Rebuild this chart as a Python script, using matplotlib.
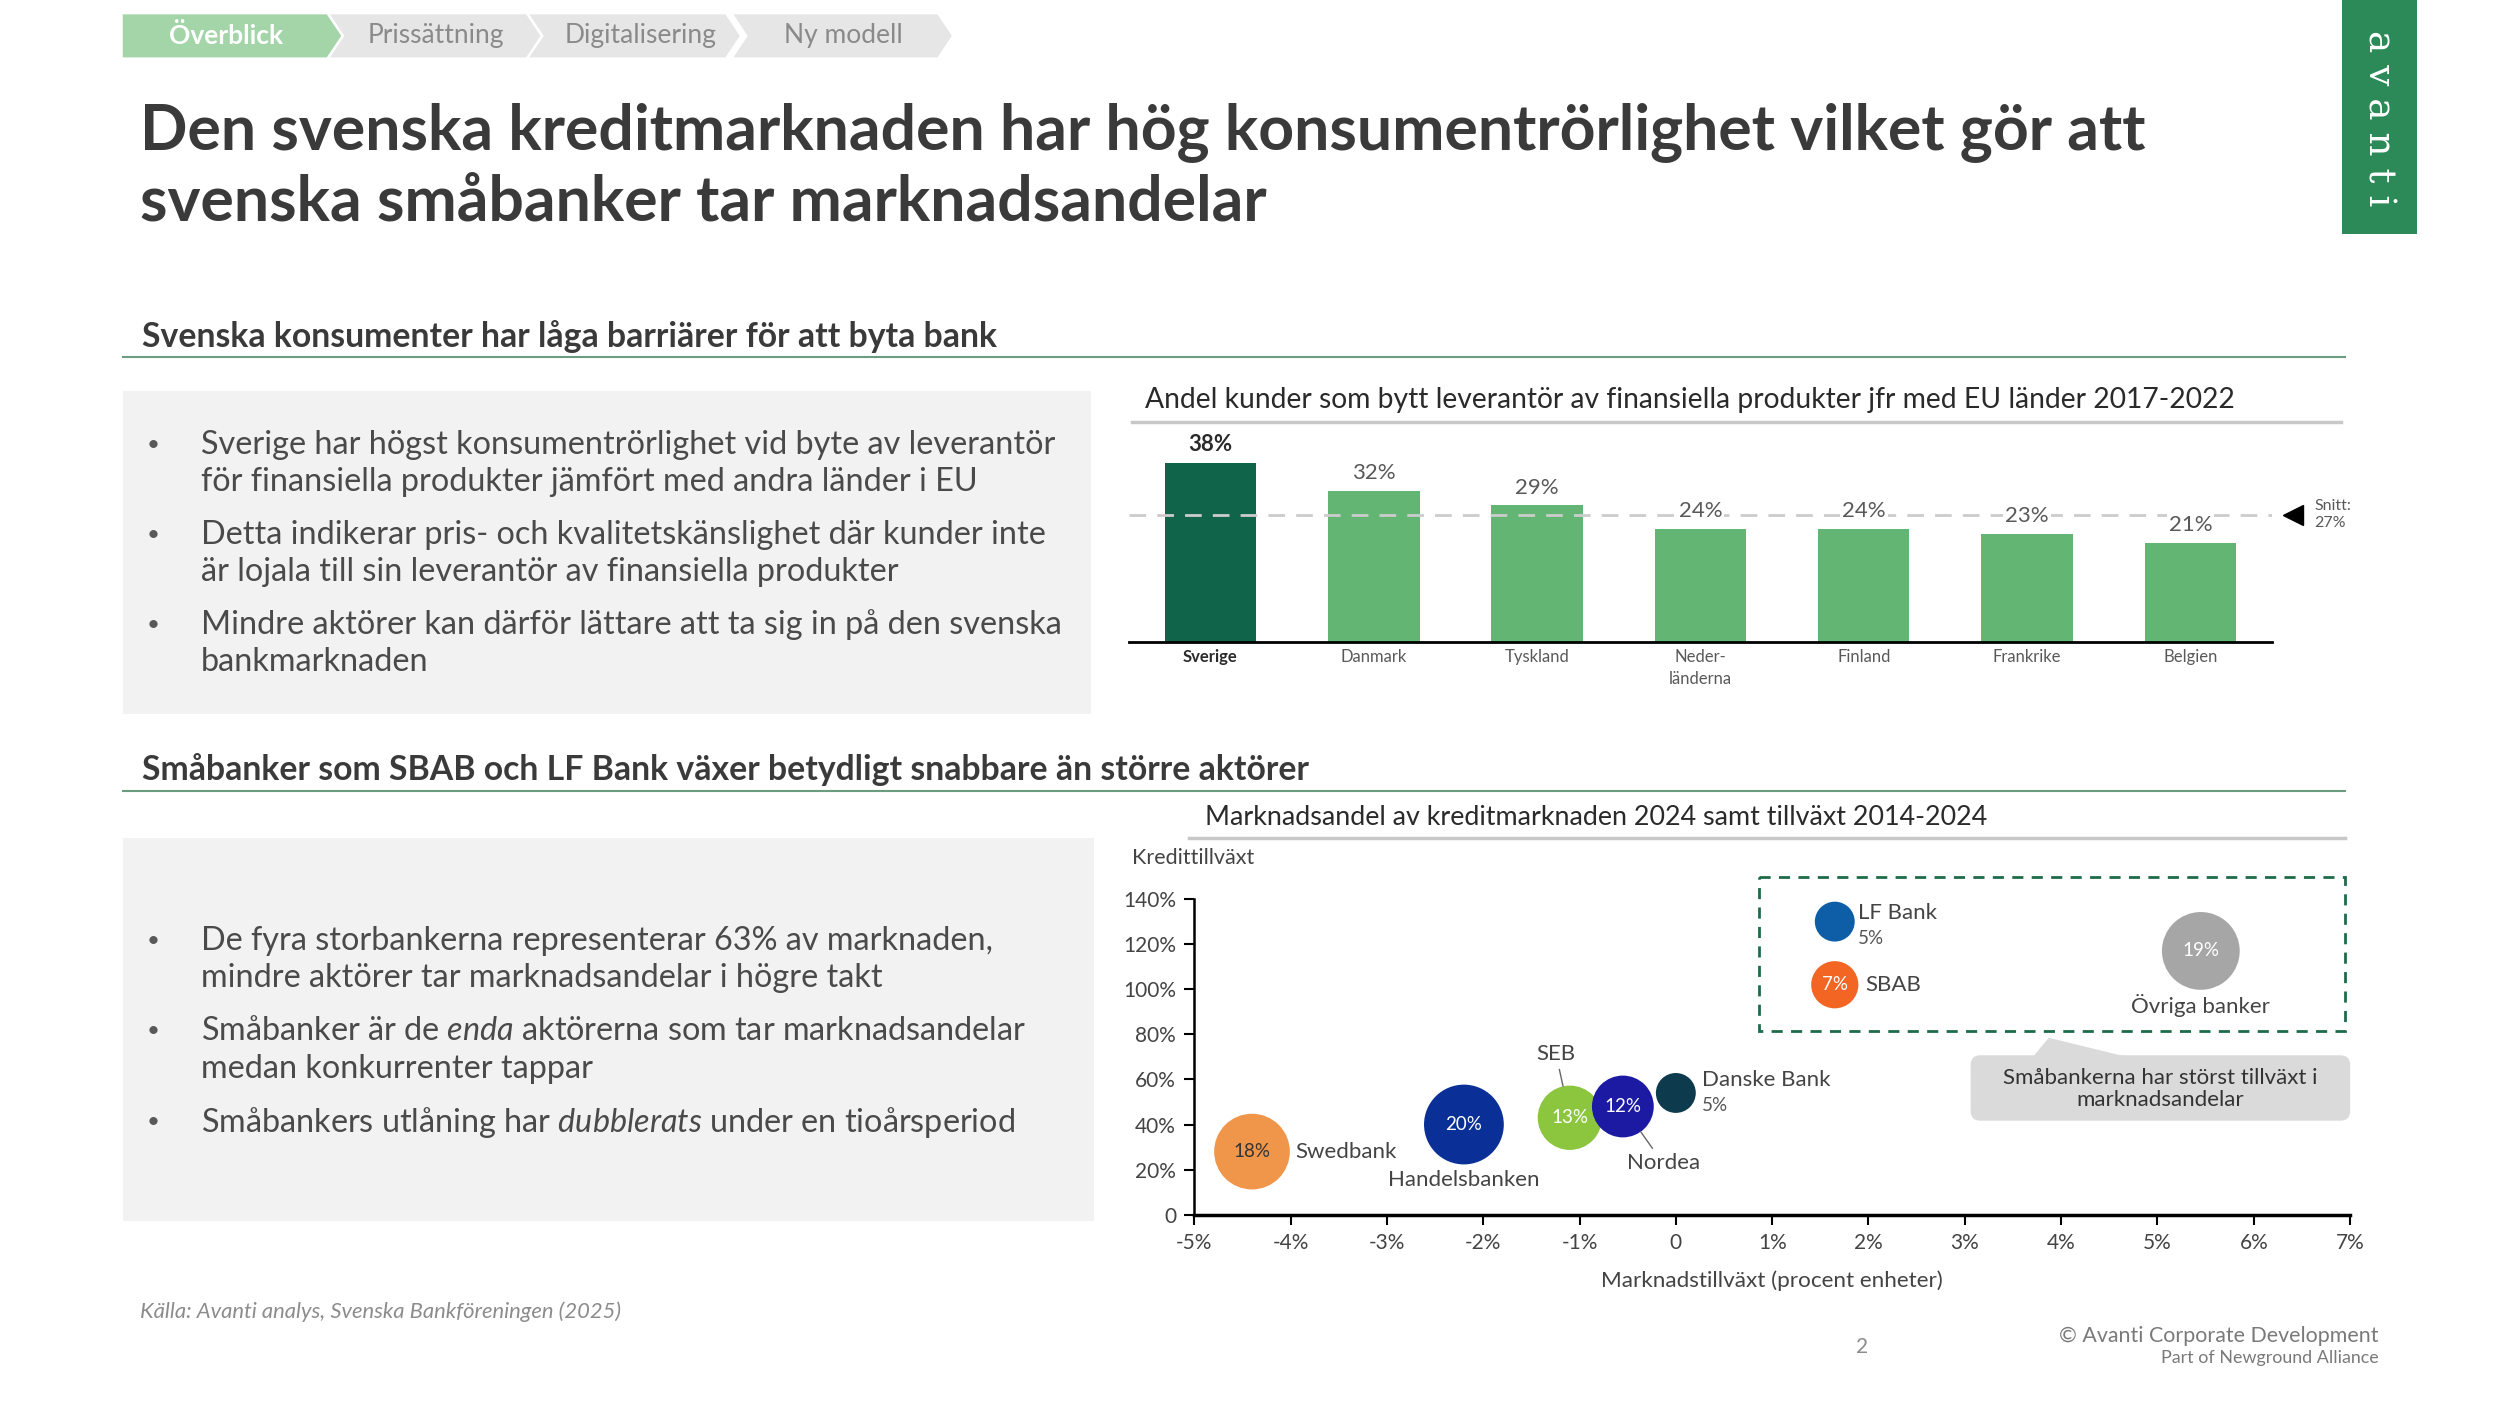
import matplotlib.pyplot as plt
from matplotlib.patches import Polygon, Rectangle, FancyBboxPatch
import numpy as np

plt.rcParams['font.family'] = ['Lato', 'DejaVu Sans']
plt.rcParams['mathtext.fontset'] = 'custom'
plt.rcParams['mathtext.rm'] = 'Lato'
plt.rcParams['mathtext.it'] = 'Lato:italic'

# --- data ---
tabs = ['Överblick', 'Prissättning', 'Digitalisering', 'Ny modell']

countries = ['Sverige', 'Danmark', 'Tyskland', 'Neder-\nländerna', 'Finland', 'Frankrike', 'Belgien']
switch_share = [38, 32, 29, 24, 24, 23, 21]
eu_avg = 27

banks = ['Swedbank', 'Handelsbanken', 'SEB', 'Nordea', 'Danske Bank', 'LF Bank', 'SBAB', 'Övriga banker']
market_growth = [-4.4, -2.2, -1.1, -0.55, 0.0, 1.65, 1.65, 5.45]
credit_growth = [28, 40, 43, 48, 54, 130, 102, 117]
market_share = [18, 20, 13, 12, 5, 5, 7, 19]
bank_colors = ['#f0964a', '#0a2f96', '#8cc63f', '#1c1aa3', '#0e3a4e', '#0d5ea6', '#f26522', '#a6a6a6']

x_ticks = [-5, -4, -3, -2, -1, 0, 1, 2, 3, 4, 5, 6, 7]
y_ticks = [0, 20, 40, 60, 80, 100, 120, 140]

bullets_top = [
    ['Sverige har högst konsumentrörlighet vid byte av leverantör',
     'för finansiella produkter jämfört med andra länder i EU'],
    ['Detta indikerar pris- och kvalitetskänslighet där kunder inte',
     'är lojala till sin leverantör av finansiella produkter'],
    ['Mindre aktörer kan därför lättare att ta sig in på den svenska',
     'bankmarknaden'],
]
bullets_bottom = [
    ['De fyra storbankerna representerar 63% av marknaden,',
     'mindre aktörer tar marknadsandelar i högre takt'],
    [r'Småbanker är de $\mathit{enda}$ aktörerna som tar marknadsandelar',
     'medan konkurrenter tappar'],
    [r'Småbankers utlåning har $\mathit{dubblerats}$ under en tioårsperiod'],
]

# --- slide grid (shrunk pixel units) ---
W, H = 1568, 882
TXT = '#3a3a3a'
GREY = '#595959'

fig = plt.figure(figsize=(25, 14.06), dpi=100)
bg = fig.add_axes([0, 0, 1, 1])
bg.set_xlim(0, W)
bg.set_ylim(H, 0)
bg.axis('off')


def rect(x0, y0, x1, y1):
    return [x0 / W, 1 - y1 / H, (x1 - x0) / W, (y1 - y0) / H]


# tabs
tab_x = [(77, 205), (207, 330), (332, 455), (460, 588)]
tab_dx = [-4, 0, 3, 0]
for i, (name, (x0, x1)) in enumerate(zip(tabs, tab_x)):
    pts = [(x0, 9), (x1, 9), (x1 + 9, 22.5), (x1, 36), (x0, 36)]
    if i > 0:
        pts.append((x0 + 9, 22.5))
    fc = '#a3d5a9' if i == 0 else '#e6e6e6'
    bg.add_patch(Polygon(pts, closed=True, fc=fc, ec='none'))
    bg.text((x0 + x1) / 2 + 5 + tab_dx[i], 22.5, name, ha='center', va='center', fontsize=19,
            color='white' if i == 0 else '#8a8a8a', fontweight='bold' if i == 0 else 'normal')

# logo
bg.add_patch(Rectangle((1469, 0), 47, 147, fc='#2b8a58', ec='none'))
bg.text(1492, 74, 'a v a n t i', rotation=-90, ha='center', va='center', fontsize=27,
        color='white', family='DejaVu Serif')

# title
bg.text(88, 83, 'Den svenska kreditmarknaden har hög konsumentrörlighet vilket gör att',
        fontsize=45, fontweight='bold', color=TXT, va='center')
bg.text(88, 127, 'svenska småbanker tar marknadsandelar',
        fontsize=45, fontweight='bold', color=TXT, va='center')

# section headers
for y, txt in [(211, 'Svenska konsumenter har låga barriärer för att byta bank'),
               (483, 'Småbanker som SBAB och LF Bank växer betydligt snabbare än större aktörer')]:
    bg.text(89, y, txt, fontsize=24.3, fontweight='bold', color=TXT, va='center')
    bg.plot([77, 1471], [y + 13, y + 13], color='#6b9c80', lw=1.5)

# grey boxes with bullets
bg.add_patch(Rectangle((77, 245), 607, 203, fc='#f2f2f2', ec='none'))
bg.add_patch(Rectangle((77, 526), 609, 240, fc='#f2f2f2', ec='none'))


def bullets(items, y0, gap):
    y = y0
    for lines in items:
        bg.text(92, y, '•', fontsize=16, color=GREY, va='center')
        for ln in lines:
            bg.text(126, y, ln, fontsize=23.3, color='#4a4a4a', va='center')
            y += 23.5
        y += gap


bullets(bullets_top, 279, 9.5)
bullets(bullets_bottom, 590, 10)

# chart titles
bg.text(718, 251, 'Andel kunder som bytt leverantör av finansiella produkter jfr med EU länder 2017-2022',
        fontsize=20.3, color='#2a2a2a', va='center')
bg.plot([710, 1468], [265, 265], color='#c8c8c8', lw=2.5)
bg.text(756, 513, 'Marknadsandel av kreditmarknaden 2024 samt tillväxt 2014-2024',
        fontsize=19.4, color='#2a2a2a', va='center')
bg.plot([746, 1471], [526, 526], color='#c8c8c8', lw=2.5)

# highlight box and callout (drawn on the background, behind the transparent chart)
bg.add_patch(Rectangle((1103, 550), 368, 97, fill=False, ec='#1e6b4a', lw=2, ls=(0, (4, 3))))
bg.add_patch(FancyBboxPatch((1236, 662), 238, 41, boxstyle='round,pad=0,rounding_size=6',
                            fc='#dadada', ec='none'))
bg.add_patch(Polygon([(1285, 651), (1275, 663), (1334, 663)], closed=True, fc='#dadada', ec='none'))
bg.text(1355, 683, 'Småbankerna har störst tillväxt i\nmarknadsandelar', ha='center', va='center',
        fontsize=16, color='#333333', linespacing=1.1)

# --- bar chart ---
ax1 = fig.add_axes(rect(708, 403 - 40 * 2.97, 1425, 403))
ax1.set_facecolor('none')
xb = np.arange(len(countries))
ax1.bar(xb, switch_share, width=0.56,
        color=['#0f6449'] + ['#62b572'] * (len(countries) - 1), zorder=2)
ax1.axhline(eu_avg, color='#cccccc', lw=2, ls=(0, (6, 4)), zorder=3)
ax1.set_xlim(-0.5, 6.5)
ax1.set_ylim(0, 40)
for s in ['top', 'right', 'left']:
    ax1.spines[s].set_visible(False)
ax1.spines['bottom'].set_linewidth(2)
ax1.set_yticks([])
ax1.set_xticks(xb)
ax1.set_xticklabels(countries, fontsize=12, color=GREY, linespacing=1.4)
ax1.get_xticklabels()[0].set_fontweight('bold')
ax1.get_xticklabels()[0].set_color('#2a2a2a')
ax1.tick_params(axis='x', length=0, pad=5)
for i, v in enumerate(switch_share):
    if i == 0:
        ax1.text(i, v + 3.7, f'{v}%', ha='center', va='center', fontsize=16,
                 fontweight='bold', color='#2a2a2a')
    else:
        ax1.text(i, v + 3.7, f'{v}%', ha='center', va='center', fontsize=16, color=GREY,
                 bbox=dict(fc='white', ec='none', pad=1.5), zorder=4)
ax1.plot(6.63, eu_avg, marker='<', ms=15, color='black', clip_on=False)
ax1.text(6.76, eu_avg, 'Snitt:\n27%', ha='left', va='center', fontsize=11.5, color=GREY)

# --- bubble chart ---
ax2 = fig.add_axes(rect(749, 564, 1474, 762))
ax2.set_facecolor('none')
sizes = [165 * m for m in market_share]
ax2.scatter(market_growth, credit_growth, s=sizes, c=bank_colors, zorder=3, linewidths=0)
ax2.set_xlim(-5, 7)
ax2.set_ylim(0, 140)
ax2.spines['top'].set_visible(False)
ax2.spines['right'].set_visible(False)
ax2.spines['left'].set_linewidth(1.8)
ax2.spines['bottom'].set_linewidth(2.5)
ax2.set_xticks(x_ticks)
ax2.set_xticklabels([f'{t}%' if t != 0 else '0' for t in x_ticks])
ax2.set_yticks(y_ticks)
ax2.set_yticklabels([f'{t}%' if t != 0 else '0' for t in y_ticks])
ax2.tick_params(labelsize=15, labelcolor='#444444', length=7, width=1.5, pad=6)
ax2.text(-5.65, 158, 'Kredittillväxt', fontsize=15.5, color='#444444', ha='left', va='center',
         clip_on=False)
ax2.set_xlabel('Marknadstillväxt (procent enheter)', fontsize=16.2, color='#444444', labelpad=13)

# values inside bubbles
for i, (x, y, m) in enumerate(zip(market_growth, credit_growth, market_share)):
    if banks[i] in ('LF Bank', 'Danske Bank'):
        continue
    ax2.text(x, y, f'{m}%', ha='center', va='center', fontsize=13.5, zorder=4,
             color='#333333' if banks[i] == 'Swedbank' else 'white')

# bank name labels: (dx, dy in points, ha, leader line)
label_pos = {
    'Swedbank': (31, 0, 'left', False),
    'Handelsbanken': (0, -40, 'center', False),
    'SEB': (-10, 46, 'center', True),
    'Nordea': (29, -41, 'center', True),
    'Danske Bank': (19, 9, 'left', False),
    'LF Bank': (17, 6, 'left', False),
    'SBAB': (22, 0, 'left', False),
    'Övriga banker': (0, -39, 'center', False),
}
for i, name in enumerate(banks):
    dx, dy, ha, lead = label_pos[name]
    r = np.sqrt(sizes[i]) / 2
    ap = dict(arrowstyle='-', color='#666666', lw=1, shrinkA=2, shrinkB=r) if lead else None
    ax2.annotate(name, (market_growth[i], credit_growth[i]), xytext=(dx, dy),
                 textcoords='offset points', ha=ha, va='center', fontsize=16, color='#444444',
                 arrowprops=ap, annotation_clip=False)
    if name in ('Danske Bank', 'LF Bank'):
        ax2.annotate(f'{market_share[i]}%', (market_growth[i], credit_growth[i]),
                     xytext=(dx, dy - 18), textcoords='offset points', ha='left', va='center',
                     fontsize=13.5, color='#555555', annotation_clip=False)

# footer
bg.text(88, 823, 'Källa: Avanti analys, Svenska Bankföreningen (2025)', fontsize=15.8,
        style='italic', color='#8c8c8c', va='center')
bg.text(1168, 845, '2', fontsize=15, color='#8c8c8c', ha='center', va='center')
bg.text(1492, 838, '© Avanti Corporate Development', fontsize=15.4, color='#7a7a7a',
        ha='right', va='center')
bg.text(1492, 852, 'Part of Newground Alliance', fontsize=12.9, color='#7a7a7a',
        ha='right', va='center')

fig.savefig('out.png', dpi=100, facecolor='white')
